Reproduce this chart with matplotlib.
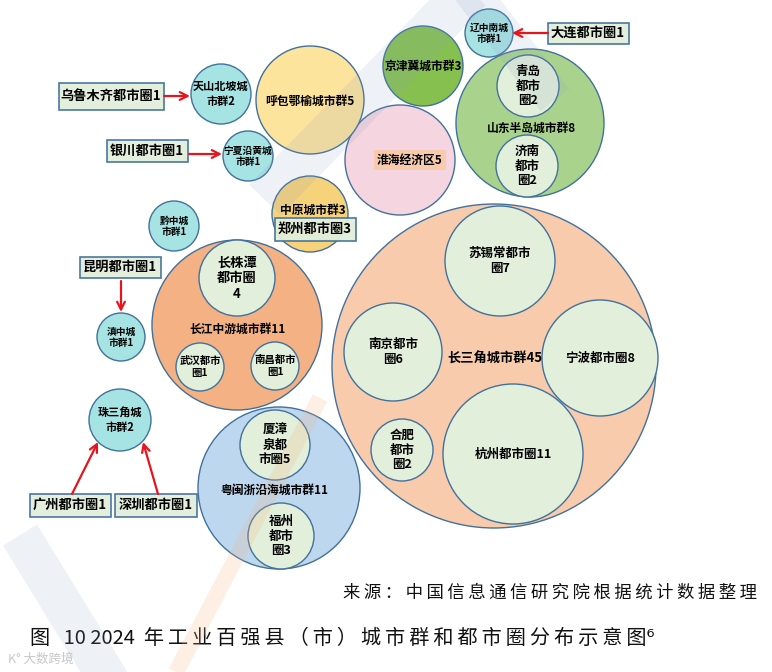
import numpy as np
import matplotlib
matplotlib.use("Agg")
import matplotlib.pyplot as plt
from matplotlib.patches import Circle, Rectangle, Polygon

plt.rcParams['font.family'] = ['Noto Sans CJK SC', 'DejaVu Sans']

# 城市群 (outer circles) and their count of 百强县
cluster_names = ['辽中南城\n市群', '京津冀城市群', '山东半岛城市群', '淮海经济区', '呼包鄂榆城市群',
                 '天山北坡城\n市群', '宁夏沿黄城\n市群', '黔中城\n市群', '中原城市群', '滇中城\n市群',
                 '长江中游城市群', '珠三角城\n市群', '粤闽浙沿海城市群', '长三角城市群']
cluster_counts = [1, 3, 8, 5, 5, 2, 1, 1, 3, 1, 11, 2, 11, 45]

# 都市圈 inside the clusters
metro_names = ['青岛\n都市\n圈', '济南\n都市\n圈', '长株潭\n都市圈\n', '武汉都市\n圈', '南昌都市\n圈',
               '厦漳\n泉都\n市圈', '福州\n都市\n圈', '苏锡常都市\n圈', '南京都市\n圈', '宁波都市圈',
               '合肥\n都市\n圈', '杭州都市圈']
metro_counts = [2, 2, 4, 1, 1, 5, 3, 7, 6, 8, 2, 11]

# 都市圈 shown as boxes next to their cluster
tag_names = ['大连都市圈', '乌鲁木齐都市圈', '银川都市圈', '郑州都市圈', '昆明都市圈', '广州都市圈', '深圳都市圈']
tag_counts = [1, 1, 1, 3, 1, 1, 1]

source_text = '来源：中国信息通信研究院根据统计数据整理'
caption_head = '图   10 2024  '
caption_body = '年工业百强县（市）城市群和都市圈分布示意图'
caption_note = '⁶'

# layout, in pixels of the 772x672 picture
cluster_xy = [(489, 33), (423, 66), (530, 123), (400, 160), (310, 100), (221, 94), (248, 156),
              (174, 226), (310, 214), (121, 337), (237, 325), (120, 420), (279, 488), (494, 366)]
cluster_r = [24, 40, 74, 55, 54, 30, 25, 25, 38, 24, 85, 31, 81, 162]
cluster_label_xy = [(489, 33), (423, 66), (531, 128), (410, 160), (310, 101), (221, 94), (248, 156),
                    (174, 226), (313, 210), (121, 337), (238, 329), (120, 420), (274, 490), (495, 359)]
cyan = '#a6e3e3'
cluster_colors = [cyan, '#86c14f', '#a9d38c', '#f5d5df', '#fde49c', cyan, cyan, cyan,
                  '#f6d27a', cyan, '#f4b183', cyan, '#bdd7ee', '#f8cbad']
cluster_fs = [7, 8.5, 8.5, 8.5, 8.5, 8, 7, 7, 8.5, 7, 8.5, 8, 8.5, 9.5]

metro_xy = [(528, 86), (527, 166), (237, 278), (200, 367), (275, 366), (275, 445), (281, 536),
            (500, 261), (393, 352), (600, 358), (402, 450), (513, 454)]
metro_r = [31, 31, 38, 24, 24, 35, 33, 55, 49, 58, 31, 70]
metro_fs = [9, 9, 9.5, 7.5, 7.5, 9, 9, 9, 9, 9, 9, 9]

tag_xy = [(588, 33), (111, 96), (147, 151), (315, 229), (120, 267), (70, 505), (156, 505)]
tag_wh = [(81, 21), (105, 27), (81, 22), (81, 23), (81, 21), (81, 23), (82, 23)]
arrows = [((548, 33), (512, 33)), ((164, 96), (190, 96)), ((189, 154), (222, 154)), None,
          ((121, 281), (121, 312)), ((72, 494), (98, 442)), ((158, 494), (143, 442))]

edge = '#41719c'


def band(p0, p1, width):
    # straight stripe of the faint logo behind the chart
    p0, p1 = np.array(p0, float), np.array(p1, float)
    d = p1 - p0
    n = np.array([-d[1], d[0]]) / np.hypot(*d) * width / 2
    return [p0 + n, p1 + n, p1 - n, p0 - n]


fig = plt.figure(figsize=(7.72, 6.72), dpi=100)
ax = fig.add_axes([0, 0, 1, 1])
ax.set_xlim(0, 772)
ax.set_ylim(672, 0)
ax.axis('off')

for i in range(len(cluster_names)):
    ax.add_patch(Circle(cluster_xy[i], cluster_r[i], facecolor=cluster_colors[i],
                        edgecolor=edge, lw=1.0, zorder=2))
    label = cluster_names[i] + str(cluster_counts[i])
    x, y = cluster_label_xy[i]
    bbox = None
    if cluster_names[i] == '淮海经济区':
        bbox = dict(boxstyle='square,pad=0.3', facecolor='#f9c9a0', edgecolor='none', alpha=0.8)
    ax.text(x, y, label, ha='center', va='center', fontsize=cluster_fs[i], fontweight='bold',
            linespacing=1.15, zorder=5, bbox=bbox)

for i in range(len(metro_names)):
    ax.add_patch(Circle(metro_xy[i], metro_r[i], facecolor='#e2efda', edgecolor=edge,
                        lw=1.0, zorder=3))
    ax.text(metro_xy[i][0], metro_xy[i][1], metro_names[i] + str(metro_counts[i]),
            ha='center', va='center', fontsize=metro_fs[i], fontweight='bold',
            linespacing=1.15, zorder=5)

# faint watermark stripes
for p0, p1, w in [((265, 200), (470, -10), 44), ((470, -10), (555, 100), 36),
                  ((20, 535), (115, 690), 40)]:
    ax.add_patch(Polygon(band(p0, p1, w), closed=True, facecolor='#8a9cc4', edgecolor='none',
                         alpha=0.14, zorder=4))
ax.add_patch(Polygon(band((320, 398), (176, 672), 16), closed=True, facecolor='#f7b27a',
                     edgecolor='none', alpha=0.2, zorder=4))

for i in range(len(tag_names)):
    x, y = tag_xy[i]
    w, h = tag_wh[i]
    ax.add_patch(Rectangle((x - w / 2, y - h / 2), w, h, facecolor='#e2efda', edgecolor=edge,
                           lw=1.2, zorder=6, alpha=0.95))
    ax.text(x, y, tag_names[i] + str(tag_counts[i]), ha='center', va='center',
            fontsize=9.5, fontweight='bold', zorder=7)
    if arrows[i] is not None:
        start, end = arrows[i]
        ax.annotate('', xy=end, xytext=start, zorder=7,
                    arrowprops=dict(arrowstyle='->', color='#e8141c', lw=1.6,
                                    shrinkA=0, shrinkB=0, mutation_scale=14))

sp = '\u2009'
ax.text(757, 593, sp.join(source_text), ha='right', va='center', fontsize=12.5,
        color='#111111')
ax.text(30, 638, caption_head + sp.join(caption_body) + caption_note, ha='left', va='center',
        fontsize=14.5, color='#111111')
ax.text(8, 659, 'K° 大数跨境', ha='left', va='center', fontsize=9, color='#c8c8c8')

fig.savefig('out.png', dpi=100)
